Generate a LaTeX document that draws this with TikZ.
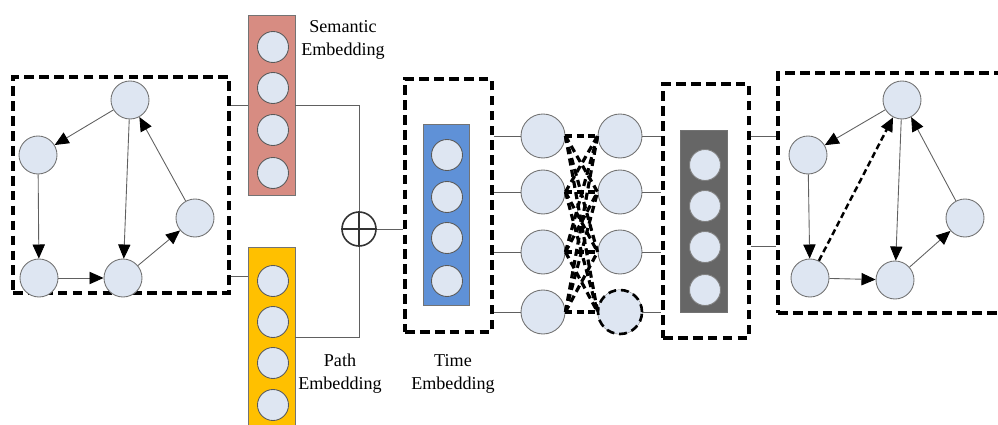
\documentclass[tikz,border=0pt]{standalone}
\usepackage{fontspec}
\setmainfont{Liberation Serif}
\usetikzlibrary{arrows.meta}

\definecolor{nodefill}{RGB}{222,230,242}
\definecolor{semfill}{RGB}{215,140,130}
\definecolor{pathfill}{RGB}{255,192,0}
\definecolor{timefill}{RGB}{95,145,215}
\definecolor{outfill}{RGB}{102,102,102}

\begin{document}
\begin{tikzpicture}[x=0.02cm, y=-0.02cm,
    main node/.style={circle, draw=gray!90!black, fill=nodefill, minimum size=.76cm, inner sep=0pt, line width=.5pt},
    emb node/.style={circle, draw=black!65, fill=nodefill, minimum size=.62cm, inner sep=0pt, line width=.5pt},
    hid node/.style={main node, minimum size=.88cm},
    emb box/.style={rectangle, draw=black!55, line width=.4pt, minimum width=.94cm, minimum height=3.6cm, inner sep=0pt},
    dbox/.style={rectangle, draw=black, line width=1.9pt, dash pattern=on 5.5pt off 3pt, inner sep=0pt},
    edge/.style={draw=gray!75!black, line width=.5pt, -{Triangle[length=8pt,width=7pt,black]}},
    wire/.style={draw=gray!75!black, line width=.5pt},
    mix/.style={draw=black, line width=1.8pt, dash pattern=on 4pt off 2.5pt},
    emb text/.style={align=center, font=\fontsize{10.3}{13}\selectfont}]
\clip (0,0) rectangle (998,425);

% input graph
\node[dbox, minimum width=4.32cm, minimum height=4.32cm] (g1) at (121,185) {};
\foreach \n/\x/\y in {lt/130/100, ll/38/155, lr/195/218, lb/39/278, lm/123/278}
    \node[main node] (\n) at (\x,\y) {};
\foreach \s/\t in {lt/ll, ll/lb, lb/lm, lm/lr, lr/lt, lt/lm}
    \draw[edge] (\s) -- (\t);

% semantic and path embeddings
\node[emb box, fill=semfill] (sem) at (271.5,105) {};
\node[emb box, fill=pathfill] (pe) at (271.5,337.5) {};
\foreach \i/\y in {1/47, 2/88, 3/130, 4/173}
    \node[emb node] (s\i) at (273,\y) {};
\foreach \i/\y in {1/281, 2/322, 3/363, 4/405}
    \node[emb node] (p\i) at (273,\y) {};
\node[emb text] (semtxt) at (343,40) {Semantic\\Embedding};
\node[emb text] (pathtxt) at (340,374) {Path\\Embedding};

\draw[wire] (sem.west -| g1.east) -- (sem.west);
\draw[wire] ([yshift=.36cm]g1.south east) coordinate (pin) -- (pin -| pe.west);

% concatenation
\node[circle, draw=black!80, line width=.9pt, minimum size=.68cm, inner sep=0pt] (plus) at (359,229) {};
\draw[black!80, line width=.9pt] (plus.north) -- (plus.south) (plus.west) -- (plus.east);
\draw[wire] (sem.east) -| (plus.north);
\draw[wire] (pe.east) -| (plus.south);

% time embedding
\node[dbox, minimum width=1.74cm, minimum height=5.06cm] (tbox) at (448.5,205.5) {};
\node[emb box, fill=timefill, minimum height=3.62cm, minimum width=.92cm] (te) at (446,214.5) {};
\foreach \i/\y in {1/155, 2/197, 3/238, 4/281}
    \node[emb node] (t\i) at (447,\y) {};
\node[emb text] (timetxt) at (453,374) {Time\\Embedding};
\draw[wire] (plus.east) -- (plus.east -| tbox.west);

% hidden layers
\foreach \i/\y in {1/136, 2/192, 3/252, 4/312}{
    \node[hid node] (a\i) at (543,\y) {};
    \node[hid node] (b\i) at (620,\y) {};}
\node[hid node, draw=black, line width=1.5pt, dash pattern=on 4.5pt off 2.8pt] at (b4) {};
\foreach \i in {1,...,4}
    \foreach \j in {1,...,4}
        \draw[mix] (a\i.east) -- (b\j.west);

% output embedding
\node[dbox, minimum width=1.72cm, minimum height=5.08cm] (gbox) at (706,211) {};
\node[emb box, fill=outfill, minimum height=3.64cm] (oe) at (703.5,221) {};
\foreach \i/\y in {1/165, 2/206, 3/247, 4/290}
    \node[emb node, draw=black!50] (o\i) at (705,\y) {};
\foreach \i in {1,...,4}{
    \draw[wire] (a\i.west) -- (a\i.west -| tbox.east);
    \draw[wire] (b\i.east) -- (b\i.east -| gbox.west);}

% predicted graph
\node[dbox, minimum width=4.64cm, minimum height=4.8cm] (g2) at (894,193) {};
\foreach \n/\x/\y in {rt/902/100, rl/808/155, rr/965/218, rb/810/278, rm/895/280}
    \node[main node] (\n) at (\x,\y) {};
\foreach \s/\t in {rt/rl, rl/rb, rb/rm, rm/rr, rr/rt, rt/rm}
    \draw[edge] (\s) -- (\t);
\draw[edge, draw=black, line width=1.4pt, dash pattern=on 3.5pt off 2pt] (rb) -- (rt);

\draw[wire] ([yshift=-1.08cm]gbox.north east) coordinate (q1) -- (q1 -| g2.west);
\draw[wire] ([yshift=-3.28cm]gbox.north east) coordinate (q2) -- (q2 -| g2.west);
\end{tikzpicture}
\end{document}
